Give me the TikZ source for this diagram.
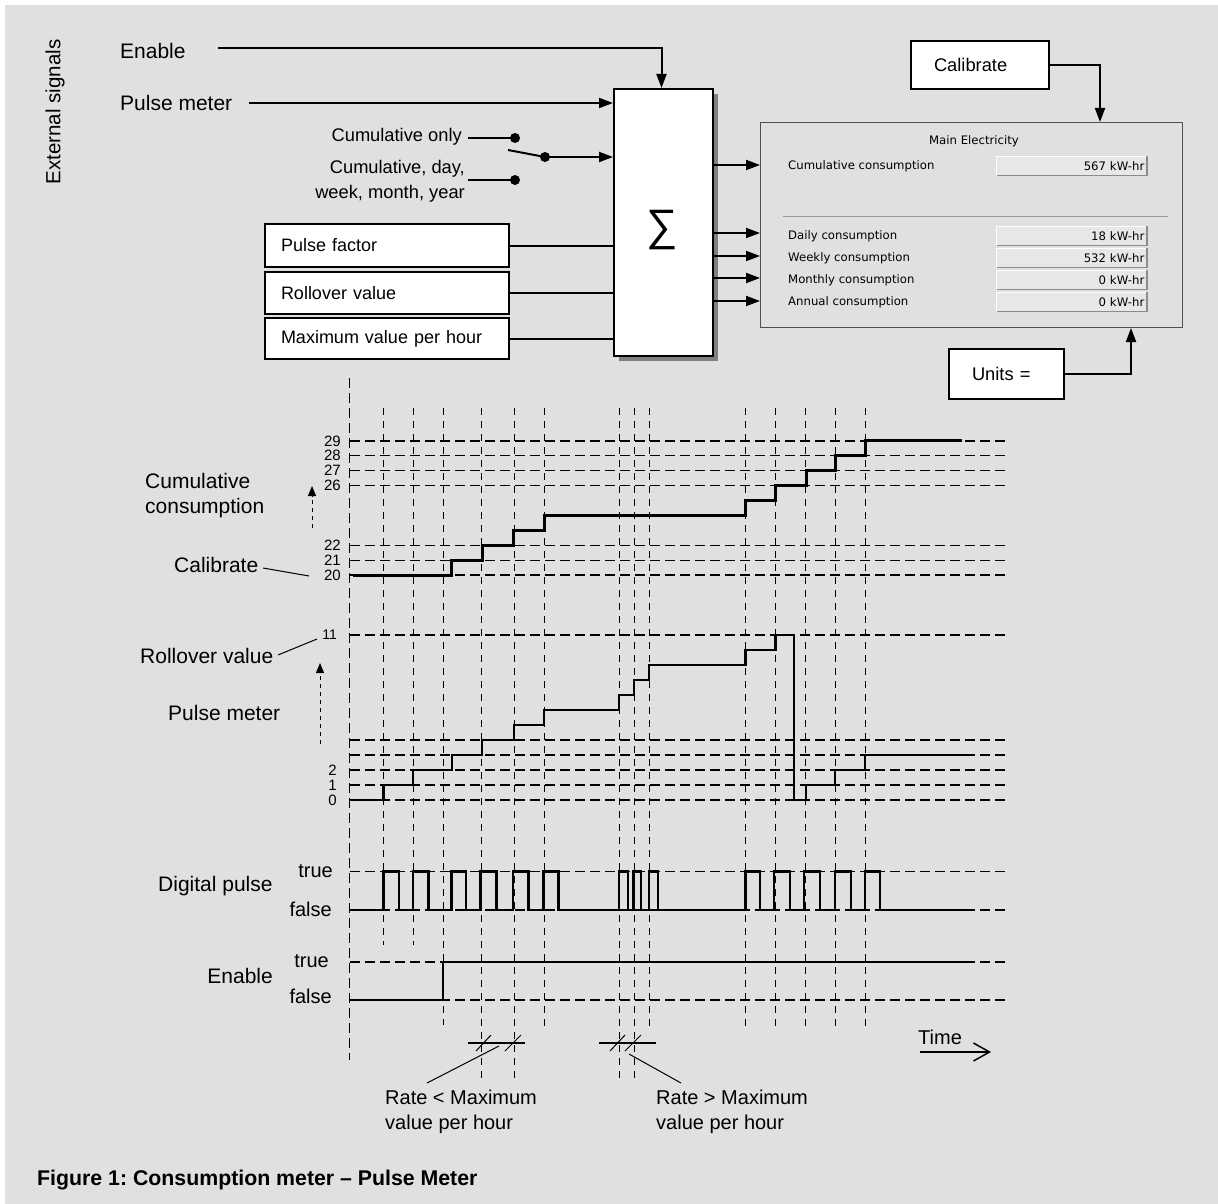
\documentclass[tikz,border=0pt]{standalone}
\usepackage{fontspec}
\setmainfont{Liberation Sans}
\newfontfamily\panelfont{DejaVu Sans}
\usetikzlibrary{arrows.meta,shadows}
\frenchspacing

\definecolor{bggray}{RGB}{224,224,224}
\definecolor{fieldgray}{RGB}{231,231,231}
\definecolor{framegray}{RGB}{80,80,80}

\tikzset{
  sig/.style={line width=2pt},
  arr/.style={sig, -{Triangle[length=14pt,width=10pt]}},
  blk/.style={draw, line width=2pt, fill=white, inner sep=0pt},
  lbl/.style={font=\fontsize{21}{25}\selectfont, inner sep=0pt},
  sml/.style={font=\fontsize{18.3}{25}\selectfont, inner sep=0pt},
  num/.style={font=\fontsize{15}{15}\selectfont, inner sep=0pt},
  ptxt/.style={font=\panelfont\fontsize{11.7}{14}\selectfont, inner sep=0pt},
  parbox/.style={blk, anchor=north west, minimum height=43pt, text width=212pt,
    inner xsep=16pt, align=left, font=\fontsize{18}{22}\selectfont},
  smbox/.style={blk, anchor=north west, minimum height=48pt, text width=92pt,
    inner xsep=23pt, align=left, font=\fontsize{18.3}{22}\selectfont},
  field/.style={fill=fieldgray, minimum width=150pt, minimum height=19pt, text width=145pt,
    inner xsep=2.5pt, inner ysep=0pt, align=right, font=\panelfont\fontsize{11.7}{14}\selectfont},
  hgrid/.style={line width=1.2pt, dash pattern=on 10pt off 5pt},
  vgrid/.style={line width=1pt, dash pattern=on 7pt off 6pt},
  wave/.style={line width=3pt},
  dotarrow/.style={line width=1pt, dash pattern=on 4pt off 4pt, -{Triangle[length=10pt,width=8pt]}},
}

\begin{document}
\begin{tikzpicture}[x=1pt,y=-1pt]
\fill[white] (0,0) rectangle (1218,1204);
\fill[bggray] (5,5) rectangle (1218,1204);
\useasboundingbox (0,0) rectangle (1218,1204);

% external signals and summing block
\node[lbl, rotate=90, font=\fontsize{20.5}{24}\selectfont] (ext) at (55,112) {External signals};
\node[lbl, anchor=west] (enable) at (120,51) {Enable};
\node[lbl, anchor=west] (pulse) at (120,103) {Pulse meter};
\node[blk, drop shadow={shadow xshift=5pt, shadow yshift=-5pt, opacity=1, fill=black!50},
  minimum width=99pt, minimum height=267pt, anchor=north west] (sum) at (613,88) {};
\node[font=\fontsize{44}{44}\selectfont, inner sep=0pt] (sigma) at (662,230) {∑};

\coordinate (enable out) at (218,48);
\coordinate (pulse out) at (249,103);
\draw[arr] (enable out) -| ([xshift=-2pt]sum.north);
\draw[arr] (pulse out) -- (pulse out -| sum.west);

% mode switch
\node[sml, anchor=east] (cumonly) at (462,137) {Cumulative only};
\node[sml, anchor=east, align=right] (cumall) at (465,181) {Cumulative, day,\\week, month, year};
\coordinate (sw1) at (515,138);
\coordinate (sw2) at (515,180);
\coordinate (swarm) at (508,150);
\coordinate (swp) at (545,157);
\draw[sig] (sw1) -- ++(-47,0);
\draw[sig] (sw2) -- ++(-47,0);
\fill (sw1) circle (5pt);
\fill (sw2) circle (5pt);
\draw[sig] (swarm) -- (swp);
\fill (swp) circle (5pt);
\draw[arr] (swp) -- (swp -| sum.west);

% parameters
\node[parbox] (factor) at (264,223) {Pulse factor};
\node[parbox, minimum height=42pt] (roll) at (264,271) {Rollover value};
\node[parbox, minimum height=41pt] (maxval) at (264,317) {Maximum value per hour};
\foreach \b in {factor,roll,maxval}
  \draw[sig] (\b.east) -- (\b.east -| sum.west);

% display panel
\node[draw=framegray, line width=1pt, minimum width=422pt, minimum height=205pt,
  anchor=north west, inner sep=0pt] (panel) at (760,122) {};
\node[ptxt] (title) at (974,141) {Main Electricity};
\draw[black!40, line width=1pt] (783,216) -- (1168,216);
\foreach \ay/\ry/\rowtext/\val [count=\i] in {165/166/Cumulative consumption/567,
    233/236/Daily consumption/18, 256/258/Weekly consumption/532,
    278/280/Monthly consumption/0, 301/302/Annual consumption/0} {
  \draw[arr] (sum.east |- 0,\ay) -- (panel.west |- 0,\ay);
  \node[ptxt, anchor=west] (lab\i) at (788,\ry) {\rowtext};
  \node[field, anchor=east] (val\i) at (1147,\ry) {\val\ kW-hr};
  \draw[white, line width=1.2pt] (val\i.south west) |- (val\i.north east);
  \draw[black!45, line width=1.2pt] (val\i.south west) -| (val\i.north east);
}

\node[smbox, minimum width=138pt] (cal) at (910,40) {Calibrate};
\draw[arr] (cal.east) -| (panel.north -| 1100,0);
\node[smbox, minimum height=50pt, text width=69pt] (units) at (948,348) {Units =};
\draw[arr] (units.east) -| (panel.south -| 1131,0);

% timing diagram grid
\draw[vgrid, dash pattern=on 10pt off 5pt] (349.5,378) -- (349.5,1060);
\foreach \x/\b in {383.5/945, 413/945, 443/1025, 481/1083, 514/1083, 544/1028,
    619/1083, 634/1083, 649/1028, 745.5/1028, 775.5/1028, 805.5/1028, 835/1028, 865/1028}
  \draw[vgrid] (\x,408) -- (\x,\b);

% cumulative consumption
\begin{scope}[shift={(0,575)}, y=14.9pt]
\foreach \n in {20,21,22,26,27,28,29} {
  \draw[hgrid] (350,\n-20) -- (1006,\n-20);
  \node[num, anchor=east] (c\n) at (341,\n-20) {\n};
}
\draw[wave] (353,0) -| (451,1) -| (482,2) -| (513,3) -| (544,4) -| (745.5,5) -| (775.5,6)
  -| (806,7) -| (835,8) -| (865,9) -- (962,9);
\end{scope}

% pulse meter count
\begin{scope}[shift={(0,800)}, y=15pt]
\foreach \n in {0,...,4,11}
  \draw[hgrid] (350,\n) -- (1006,\n);
\foreach \n in {0,1,2}
  \node[num, anchor=east] (p\n) at (337,\n) {\n};
\node[num, anchor=east, font=\fontsize{14}{14}\selectfont] (p11) at (337,11) {11};
\draw[wave, line width=2.6pt] (350,0) -| (383.5,1) -| (413,2) -| (452,3) -| (482,4) -| (514,5)
  -| (544,6) -| (619,7) -| (634,8) -| (649,9) -| (745.5,10) -| (775.5,11) -| (794,0)
  -| (806,1) -| (835,2) -| (865,3) -- (965,3);
\end{scope}

% digital pulse
\draw[hgrid] (350,871.5) -- (1006,871.5);
\draw[hgrid] (350,910) -- (1006,910);
\draw[line width=2.2pt] (352,910) foreach \a/\b in {383.5/399, 413/428.5, 451.5/466,
    480.5/496.5, 513/528.5, 543.5/558.5, 619/628, 633.5/641, 649/658, 745.5/760,
    774/790, 804/820, 835/851, 865/880} { -| (\a,871.5) -| (\b,910) } -- (967.5,910);

% enable
\draw[hgrid] (350,962) -- (1006,962);
\draw[hgrid] (350,1000) -- (1006,1000);
\draw[line width=2.5pt] (350,1000) -| (443,962) -- (968,962);

% left labels
\node[lbl, anchor=west, align=left] (cumlab) at (145,495.5) {Cumulative\\consumption};
\draw[dotarrow] (312,528) -- (312,486);
\node[lbl, anchor=west] (callab) at (174,565) {Calibrate};
\coordinate (calpt) at (309,576);
\draw[line width=1pt] (263,568) -- (calpt);
\node[lbl, anchor=west] (rolllab) at (140,656) {Rollover value};
\coordinate (rollpt) at (317,639);
\draw[line width=1pt] (278,655) -- (rollpt);
\draw[dotarrow] (320,744) -- (320,663);
\node[lbl, anchor=west] (pmlab) at (168,713) {Pulse meter};
\node[lbl, anchor=west] (diglab) at (158,886) {Digital pulse};
\node[lbl, anchor=east, font=\fontsize{20}{24}\selectfont] (dtrue) at (333,871) {true};
\node[lbl, anchor=east, font=\fontsize{20}{24}\selectfont] (dfalse) at (332,909) {false};
\node[lbl, anchor=east] (enlab) at (273,976) {Enable};
\node[lbl, anchor=east, font=\fontsize{20}{24}\selectfont] (etrue) at (329,961) {true};
\node[lbl, anchor=east, font=\fontsize{20}{24}\selectfont] (efalse) at (332,996) {false};

% rate marks
\draw[line width=1.5pt] (468,1043) -- (525,1043);
\draw[line width=1pt] (476,1051) -- (491,1035) (505,1051) -- (521,1035);
\node[lbl, anchor=west, align=left, font=\fontsize{20}{25}\selectfont] (slow) at (385,1111.5) {Rate < Maximum\\value per hour};
\coordinate (slowpt) at (499,1046);
\draw[line width=1pt] (slowpt) -- (427,1083);
\draw[line width=1.5pt] (599,1043) -- (656,1043);
\draw[line width=1pt] (610,1051) -- (625,1035) (625,1051) -- (641,1035);
\node[lbl, anchor=west, align=left, font=\fontsize{20}{25}\selectfont] (fast) at (656,1111.5) {Rate > Maximum\\value per hour};
\coordinate (fastpt) at (629,1054);
\draw[line width=1pt] (fastpt) -- (681,1083);

% time axis
\node[lbl, anchor=west, font=\fontsize{20}{24}\selectfont] (time) at (918,1037) {Time};
\coordinate (time end) at (991,1052);
\draw[line width=1.5pt, -{Straight Barb[length=16pt,width=18pt]}] (920,1052) -- (time end);

\node[anchor=west, inner sep=0pt, font=\bfseries\fontsize{21.3}{24}\selectfont] (caption) at (37,1180) {Figure 1: Consumption meter – Pulse Meter};
\end{tikzpicture}
\end{document}
